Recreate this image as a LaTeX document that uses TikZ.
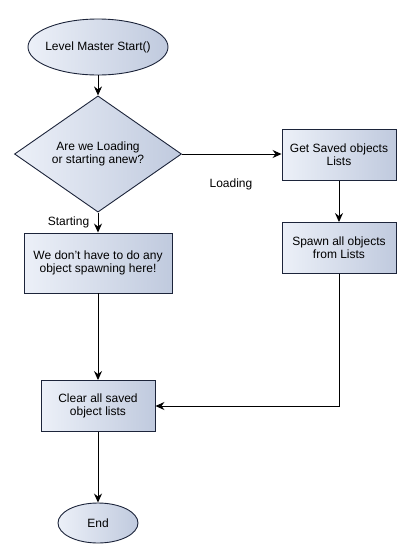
\documentclass[tikz,border=0pt]{standalone}
\usepackage{fontspec}
\setmainfont{Liberation Sans}
\usetikzlibrary{arrows.meta}
\usetikzlibrary{shapes.geometric}

\definecolor{boxlight}{RGB}{236,240,248}
\definecolor{boxdark}{RGB}{192,202,222}
\definecolor{boxline}{RGB}{28,36,58}

\begin{document}
\begin{tikzpicture}[x=1pt,y=-1pt,
  font=\fontsize{12}{13}\selectfont,
  bloc/.style={draw=boxline,line width=0.9pt,left color=boxlight,right color=boxdark,align=center,inner sep=0pt},
  boite/.style={bloc,rectangle,minimum width=114pt,minimum height=51pt},
  debut/.style={bloc,ellipse},
  choix/.style={bloc,diamond,minimum width=167pt,minimum height=98pt},
  fleche/.style={line width=0.9pt,-{Stealth[length=9pt,width=8pt,inset=3pt]}}]
\useasboundingbox (0,0) rectangle (410,558);

% Les blocs
\node[debut,minimum width=140pt,minimum height=56pt] (start) at (98,47) {\makebox[0pt]{Level Master Start()}};
\node[choix] (test) at (98,154) {Are we Loading\\or starting anew?};
\node[boite] (saved) at (339,155) {Get Saved objects\\Lists};
\node[boite] (spawn) at (339,248) {Spawn all objects\\from Lists};
\node[boite,minimum width=148pt,minimum height=60pt] (rien) at (98,263) {We don't have to do any\\object spawning here!};
\node[boite] (clear) at (98,406) {Clear all saved\\object lists};
\node[debut,minimum width=80pt,minimum height=40pt] (end) at (98,523) {End};

% Les fleches
\draw[fleche] (start) -- (test);
\draw[fleche] (test) -- node[left=5pt] {Starting} (rien);
\draw[fleche] (test.east) -- (test.east -| saved.west);
\node (loading) at (231,184) {Loading};
\draw[fleche] (saved) -- (spawn);
\draw[fleche] (rien) -- (clear);
\draw[fleche] (spawn) |- (clear);
\draw[fleche] (clear) -- (end);
\end{tikzpicture}
\end{document}
